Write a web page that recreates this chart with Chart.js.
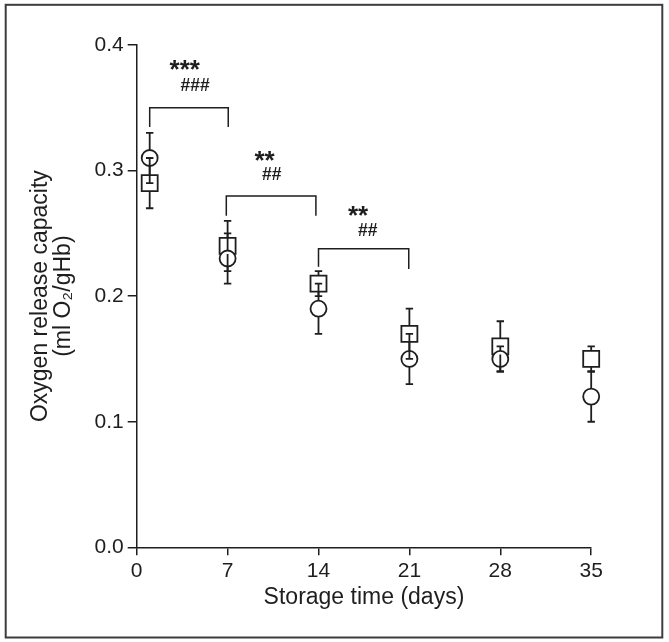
<!DOCTYPE html>
<html>
<head>
<meta charset="utf-8">
<script src="https://cdn.jsdelivr.net/npm/chart.js@4.4.1/dist/chart.umd.min.js"></script>
<style>
  html, body { margin: 0; padding: 0; background: #fff; }
  #wrap { width: 669px; height: 642px; }
</style>
</head>
<body>
<div id="wrap"><canvas id="chart"></canvas></div>
<script>
// storage days
const days = [1, 7, 14, 21, 28, 35]

// square series
const squareMean = [0.29, 0.24, 0.21, 0.17, 0.16, 0.15]
const squareSd = [0.02, 0.02, 0.01, 0.02, 0.02, 0.01]

// circle series
const circleMean = [0.31, 0.23, 0.19, 0.15, 0.15, 0.12]
const circleSd = [0.02, 0.02, 0.02, 0.02, 0.01, 0.02]

// axis ticks
const xTicks = [0, 7, 14, 21, 28, 35]
const yTicks = [0.0, 0.1, 0.2, 0.3, 0.4]

// significance brackets
const bracketStart = [1, 6.9, 14]
const bracketEnd = [7.05, 13.8, 20.95]
const bracketTop = [0.350, 0.2797, 0.2378]
const bracketLeftFoot = [0.3347, 0.264, 0.2234]
const bracketRightFoot = [0.3347, 0.264, 0.2216]

// significance marks
const starText = ['***', '**', '**']
const starX = [3.7, 9.85, 17.05]
const starY = [0.384, 0.312, 0.268]
const hashText = ['###', '##', '##']
const hashX = [4.5, 10.4, 17.8]
const hashY = [0.367, 0.296, 0.252]

const ink = '#1e1e1e'
const font = "'Liberation Sans', Arial, sans-serif"

const overlay = {
  id: 'overlay',
  beforeDraw(chart) {
    const ctx = chart.ctx
    ctx.save()
    ctx.strokeStyle = '#3c3c3c'
    ctx.lineWidth = 2
    ctx.strokeRect(5.7, 4.8, 656.6, 632.7)
    ctx.restore()
  },
  afterDatasetsDraw(chart) {
    const { ctx, scales: { x, y } } = chart
    ctx.save()
    ctx.strokeStyle = ink
    ctx.lineWidth = 1.8

    // error bars start at the symbol edge
    const half = 8
    const cap = 3.7
    const drawBars = (means, sds) => {
      means.forEach((m, i) => {
        const px = x.getPixelForValue(days[i])
        const pm = y.getPixelForValue(m)
        const ph = y.getPixelForValue(m + sds[i])
        const pl = y.getPixelForValue(m - sds[i])
        ctx.beginPath()
        ctx.moveTo(px, pm - half); ctx.lineTo(px, ph)
        ctx.moveTo(px - cap, ph); ctx.lineTo(px + cap, ph)
        ctx.moveTo(px, pm + half); ctx.lineTo(px, pl)
        ctx.moveTo(px - cap, pl); ctx.lineTo(px + cap, pl)
        ctx.stroke()
      })
    }
    drawBars(squareMean, squareSd)
    drawBars(circleMean, circleSd)

    // brackets
    ctx.lineWidth = 1.5
    bracketStart.forEach((s, i) => {
      const x0 = x.getPixelForValue(s)
      const x1 = x.getPixelForValue(bracketEnd[i])
      const yt = y.getPixelForValue(bracketTop[i])
      ctx.beginPath()
      ctx.moveTo(x0, y.getPixelForValue(bracketLeftFoot[i]))
      ctx.lineTo(x0, yt)
      ctx.lineTo(x1, yt)
      ctx.lineTo(x1, y.getPixelForValue(bracketRightFoot[i]))
      ctx.stroke()
    })

    // stars and hashes
    ctx.fillStyle = ink
    ctx.textAlign = 'center'
    ctx.textBaseline = 'middle'
    ctx.font = `bold 26px ${font}`
    starText.forEach((t, i) => {
      ctx.fillText(t, x.getPixelForValue(starX[i]), y.getPixelForValue(starY[i]) + 6)
    })
    ctx.font = `bold 17.5px ${font}`
    hashText.forEach((t, i) => {
      ctx.fillText(t, x.getPixelForValue(hashX[i]), y.getPixelForValue(hashY[i]))
    })
    ctx.restore()
  }
}

new Chart(document.getElementById('chart'), {
  type: 'scatter',
  data: {
    datasets: [
      {
        label: 'circle',
        data: days.map((d, i) => ({ x: d, y: circleMean[i] })),
        pointStyle: 'circle',
        pointRadius: 8,
        pointBorderWidth: 1.8,
        borderColor: ink,
        backgroundColor: '#fff',
        clip: false
      },
      {
        label: 'square',
        data: days.map((d, i) => ({ x: d, y: squareMean[i] })),
        pointStyle: 'rect',
        pointRadius: 11.3,
        pointBorderWidth: 1.8,
        borderColor: ink,
        backgroundColor: '#fff',
        clip: false
      }
    ]
  },
  options: {
    responsive: true,
    maintainAspectRatio: false,
    animation: false,
    events: [],
    layout: { padding: { left: 0, top: 45, right: 77.8, bottom: 0 } },
    plugins: { legend: { display: false }, tooltip: { enabled: false } },
    scales: {
      x: {
        type: 'linear',
        min: 0,
        max: 35,
        afterBuildTicks: s => { s.ticks = xTicks.map(v => ({ value: v })) },
        afterFit: s => { s.height = 94.7 },
        border: { display: true, color: ink, width: 1.5 },
        grid: { drawOnChartArea: false, drawTicks: true, tickLength: 8, color: ink, lineWidth: 1.5 },
        ticks: { color: ink, padding: 3, font: { family: font, size: 21 } },
        title: {
          display: true,
          text: 'Storage time (days)',
          color: ink,
          font: { family: font, size: 23, lineHeight: 1.0 },
          padding: { top: 0, bottom: 33 }
        }
      },
      y: {
        type: 'linear',
        min: 0,
        max: 0.4,
        afterBuildTicks: s => { s.ticks = yTicks.map(v => ({ value: v })) },
        afterFit: s => { s.width = 136.7 },
        border: { display: true, color: ink, width: 1.5 },
        grid: { drawOnChartArea: false, drawTicks: true, tickLength: 9, color: ink, lineWidth: 1.5 },
        ticks: { color: ink, padding: 4, font: { family: font, size: 21 }, callback: v => v.toFixed(1) },
        title: {
          display: true,
          text: ['Oxygen release capacity', '(ml O\u2082/gHb)'],
          color: ink,
          font: { family: font, size: 23, lineHeight: 0.97 },
          padding: { top: 30, bottom: 0 }
        }
      }
    }
  },
  plugins: [overlay]
})
</script>
</body>
</html>
